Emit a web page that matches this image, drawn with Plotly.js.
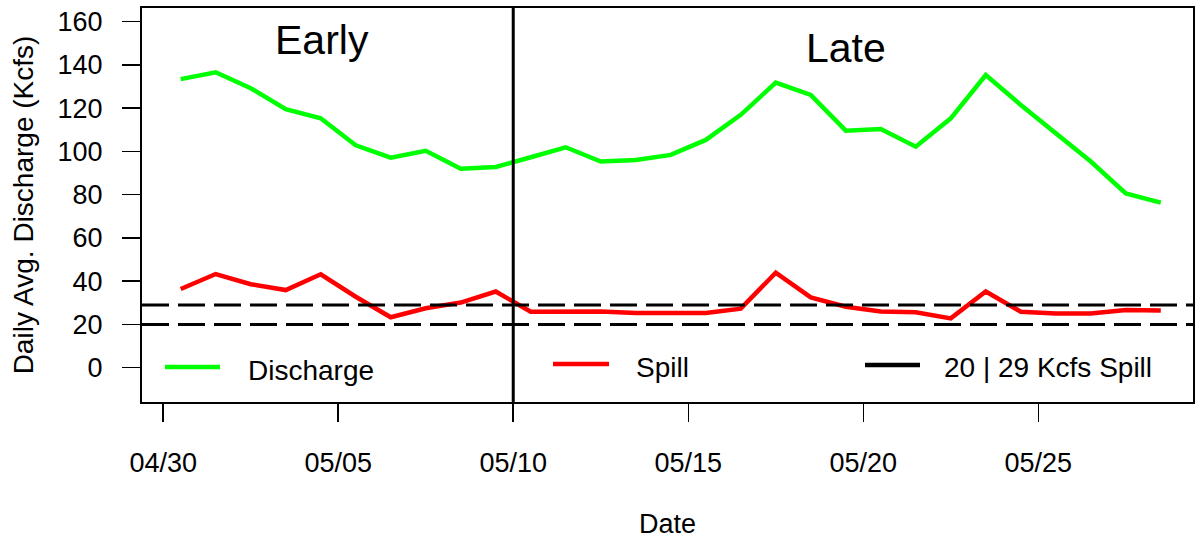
<!DOCTYPE html>
<html>
<head>
<meta charset="utf-8">
<script src="https://cdn.plot.ly/plotly-3.0.1.min.js"></script>
<style>html,body{margin:0;padding:0;background:#fff;}#chart{width:1195px;height:542px;}</style>
</head>
<body>
<div id="chart"></div>
<script>
// ---- data ----
const dayLabels = ['04-30','05-01','05-02','05-03','05-04','05-05','05-06','05-07','05-08','05-09',
  '05-10','05-11','05-12','05-13','05-14','05-15','05-16','05-17','05-18','05-19',
  '05-20','05-21','05-22','05-23','05-24','05-25','05-26','05-27','05-28'];
const discharge = [133.4,136.6,129.2,119.5,115.3,102.8,97.1,100.3,92.0,92.8,
  97.3,101.9,95.3,96.0,98.4,105.3,116.9,131.8,126.1,109.6,
  110.4,102.2,115.3,135.3,121.5,108.4,95.3,80.6,76.3];
const spill = [36.4,43.3,38.6,35.9,43.2,32.8,23.3,27.5,30.1,35.2,
  25.9,25.9,26.0,25.3,25.3,25.3,27.3,43.9,32.5,28.2,
  26.0,25.6,22.8,35.2,25.9,25.1,25.1,26.7,26.4];
const spillThresholds = [20, 29];
const tickDates = ['04-30','05-05','05-10','05-15','05-20','05-25'];
const tickLabels = ['04/30','05/05','05/10','05/15','05/20','05/25'];
const splitDate = '05-10';
const periodLabels = ['Early','Late'];
const legendLabels = ['Discharge','Spill','20 | 29 Kcfs Spill'];
const yTicks = [0,20,40,60,80,100,120,140,160];

const YEAR = '2024-';
const xs = dayLabels.map(d => YEAR + d + ' 12:00');
const FONT = 'Liberation Sans, Arial, Helvetica, sans-serif';

function shiftDays(d, days){
  const t = new Date(YEAR + d + 'T00:00:00Z').getTime() + days*86400000;
  return new Date(t).toISOString().replace('T',' ').slice(0,19);
}

const traces = [
  {x: xs, y: discharge, type:'scatter', mode:'lines', name: legendLabels[0],
   line:{color:'#00FF00', width:4.5}, showlegend:false},
  {x: xs, y: spill, type:'scatter', mode:'lines', name: legendLabels[1],
   line:{color:'#FF0000', width:4.5}, showlegend:false}
];

const shapes = [];
spillThresholds.forEach(v => shapes.push({type:'line', xref:'paper', yref:'y', x0:0, x1:1, y0:v, y1:v,
  line:{color:'#000', width:3, dash:'27px,9px'}, layer:'above'}));
shapes.push({type:'line', xref:'x', yref:'paper', x0: YEAR + splitDate + ' 00:00', x1: YEAR + splitDate + ' 00:00', y0:0, y1:1,
  line:{color:'#000', width:3}, layer:'above'});

// manual legend (paper coords)
const W = 1051, H = 394, L = 142, T = 8;
const px = x => (x - L)/W, py = y => (T + H - y)/H;
const legItems = [
  {x0:165, x1:220, y:367, tx:246, ty:370, color:'#00FF00'},
  {x0:553, x1:609, y:364, tx:634, ty:367, color:'#FF0000'},
  {x0:865, x1:920, y:365, tx:942, ty:367, color:'#000000'}
];
const annotations = [];
legItems.forEach((it,i) => {
  shapes.push({type:'line', xref:'paper', yref:'paper', x0:px(it.x0), x1:px(it.x1), y0:py(it.y), y1:py(it.y),
    line:{color:it.color, width:4.5}});
  annotations.push({xref:'paper', yref:'paper', x:px(it.tx), y:py(it.ty), xanchor:'left', yanchor:'middle',
    text:legendLabels[i], showarrow:false, font:{family:FONT, size:28, color:'#000'}});
});
annotations.push({xref:'paper', yref:'paper', x:px(321.5), y:py(40), xanchor:'center', yanchor:'middle',
  text:periodLabels[0], showarrow:false, font:{family:FONT, size:41, color:'#000'}});
annotations.push({xref:'paper', yref:'paper', x:px(845.5), y:py(47.5), xanchor:'center', yanchor:'middle',
  text:periodLabels[1], showarrow:false, font:{family:FONT, size:41, color:'#000'}});

const layout = {
  width:1195, height:542,
  margin:{l:142, r:2, t:8, b:140, pad:0},
  paper_bgcolor:'#fff', plot_bgcolor:'#fff',
  font:{family:FONT, size:27, color:'#000'},
  showlegend:false,
  xaxis:{
    type:'date',
    range:[shiftDays('04-30', -0.606), shiftDays('04-30', 29.42)],
    tickvals: tickDates.map(d => YEAR + d + ' 00:00'),
    ticktext: tickLabels,
    ticks:'outside', ticklen:18, tickwidth:1.5, tickcolor:'#000',
    showline:true, mirror:true, linecolor:'#000', linewidth:2,
    showgrid:false, zeroline:false,
    tickfont:{family:FONT, size:27, color:'#000'},
    ticklabelstandoff:18,
    title:{text:'Date', font:{family:FONT, size:27, color:'#000'}, standoff:37},
    automargin:false
  },
  yaxis:{
    range:[-15.86, 166.3],
    tickvals: yTicks,
    ticks:'outside', ticklen:18, tickwidth:1.5, tickcolor:'#000',
    showline:true, mirror:true, linecolor:'#000', linewidth:2,
    showgrid:false, zeroline:false,
    tickfont:{family:FONT, size:27, color:'#000'},
    ticklabelstandoff:14,
    title:{text:'Daily Avg. Discharge (Kcfs)', font:{family:FONT, size:28, color:'#000'}, standoff:16},
    automargin:false
  },
  shapes: shapes,
  annotations: annotations
};

Plotly.newPlot('chart', traces, layout, {displayModeBar:false, staticPlot:true});
</script>
</body>
</html>
